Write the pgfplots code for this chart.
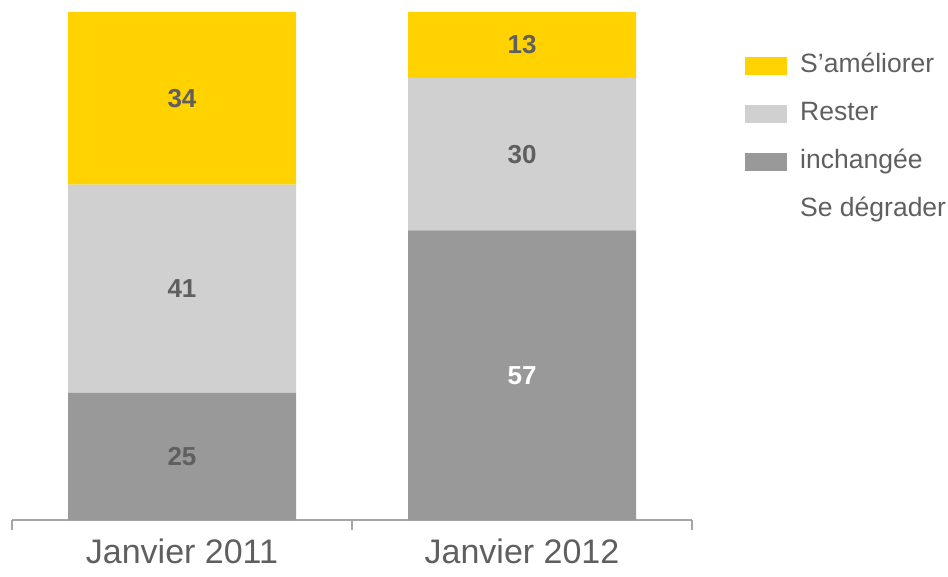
\documentclass[border=0pt]{standalone}
\usepackage{fontspec}
\setmainfont{Liberation Sans}
\usepackage{pgfplots}
\pgfplotsset{compat=1.18}
\definecolor{jaune}{HTML}{FFD200}
\definecolor{grisclair}{HTML}{D0D0D0}
\definecolor{grisfonce}{HTML}{999999}
\definecolor{texte}{HTML}{5F5F5F}
\definecolor{axe}{HTML}{A6A6A6}

\begin{document}
\begin{tikzpicture}
\begin{axis}[
  scale only axis, width=680pt, height=508pt,
  xmin=-0.5, xmax=1.5, ymin=0, ymax=100,
  ybar stacked, bar width=228pt,
  axis x line*=bottom, axis y line=none,
  x axis line style={axe, line width=1.2pt},
  xtick={0,1}, xticklabels={Janvier 2011, Janvier 2012},
  major tick length=0pt,
  extra x ticks={-0.5,0.5,1.5}, extra x tick labels={},
  extra x tick style={major tick length=10pt, tick align=outside,
    tick style={axe, line width=1.2pt}},
  xticklabel style={font=\fontsize{34}{40}\selectfont, text=texte,
    anchor=base, yshift=-43pt},
  ytick=\empty,
  point meta=explicit symbolic,
  nodes near coords={\pgfplotspointmeta},
  nodes near coords style={font=\bfseries\fontsize{26}{30}\selectfont, text=texte,
    anchor=center},
  reverse legend,
  legend cell align=left,
  legend image code/.code={\fill[#1] (0pt,-9pt) rectangle (42pt,9pt);},
  legend style={at={(1.078,0.919)}, anchor=north west, draw=none, fill=none,
    inner sep=0pt, row sep=23pt,
    font=\fontsize{26.5}{30}\selectfont, text=texte,
    nodes={inner sep=0pt, text height=19pt, text depth=6pt},
    /tikz/every odd column/.append style={column sep=13pt}},
]
\addlegendimage{empty legend}
\addlegendentry{Se dégrader}
\addplot[fill=grisfonce, draw=none,
  nodes near coords={\ifnum\pgfplotspointmeta>50 \color{white}\fi\pgfplotspointmeta}]
  coordinates {(0,25) [25] (1,57) [57]};
\addlegendentry{inchangée}
\addplot[fill=grisclair, draw=none] coordinates {(0,41) [41] (1,30) [30]};
\addlegendentry{Rester}
\addplot[fill=jaune, draw=none] coordinates {(0,34) [34] (1,13) [13]};
\addlegendentry{S’améliorer}
\end{axis}
\useasboundingbox (-12pt,-48pt) rectangle (936pt,520pt);
\end{tikzpicture}
\end{document}
